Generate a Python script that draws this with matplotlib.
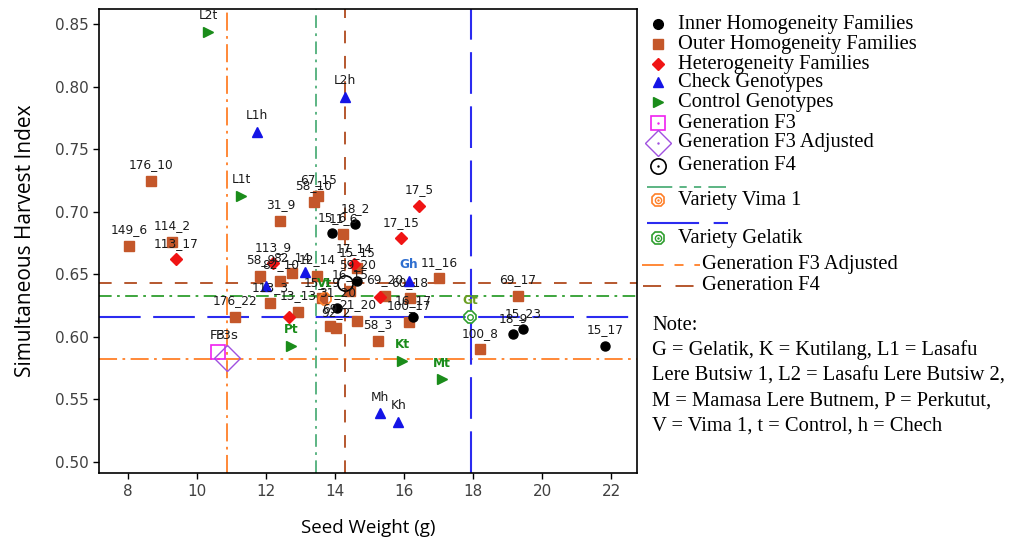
import matplotlib.pyplot as plt

# ---- data ----
# Inner homogeneity families
inner_x = [14.58, 13.91, 14.06, 14.64, 16.26, 19.16, 19.45, 21.83]
inner_y = [0.690, 0.683, 0.623, 0.645, 0.616, 0.602, 0.606, 0.593]
inner_lab = ["18_2", "15_6", "31_20", "59_20", "16_17", "18_9", "15_23", "15_17"]

# Outer homogeneity families
outer_x = [8.67, 8.03, 9.28, 12.41, 13.51, 13.39, 14.23, 11.83, 12.41, 12.75,
           13.48, 12.12, 12.93, 13.62, 13.86, 14.03, 14.64, 15.45, 16.17, 16.14,
           17.01, 19.30, 18.20, 15.25, 11.10, 14.43, 14.64]
outer_y = [0.725, 0.673, 0.676, 0.693, 0.713, 0.708, 0.682, 0.649, 0.645, 0.651,
           0.649, 0.627, 0.620, 0.631, 0.609, 0.607, 0.613, 0.633, 0.631, 0.612,
           0.647, 0.633, 0.590, 0.597, 0.616, 0.637, 0.655]
outer_lab = ["176_10", "149_6", "114_2", "31_9", "67_15", "58_10", "11_6", "58_9",
             "82_10", "82_14", "12_14", "113_3", "13_13", "15_19", "69", "92_2",
             "21_20", "69_20", "60_18", "100_17", "11_16", "69_17", "100_8", "58_3",
             "176_22", "16_15", "15_15"]

# Heterogeneity families
het_x = [9.39, 16.43, 15.91, 12.20, 12.67, 14.55, 15.30]
het_y = [0.662, 0.705, 0.679, 0.659, 0.616, 0.658, 0.632]
het_lab = ["113_17", "17_5", "17_15", "113_9", "", "17_14", ""]

# Check genotypes
check_x = [14.29, 11.74, 15.30, 15.83, 16.14, 13.13, 12.00]
check_y = [0.792, 0.764, 0.539, 0.532, 0.645, 0.652, 0.641]
check_lab = ["L2h", "L1h", "Mh", "Kh", "Gh", "", ""]

# Control genotypes
ctrl_x = [10.32, 11.28, 12.72, 15.94, 17.10]
ctrl_y = [0.844, 0.713, 0.593, 0.581, 0.566]
ctrl_lab = ["L2t", "L1t", "Pt", "Kt", "Mt"]

# generation / variety means
f3_xy = (10.61, 0.588)
f3adj_xy = (10.87, 0.583)
f4_xy = (14.29, 0.643)
vima_xy = (13.70, 0.630)
gelatik_xy = (17.91, 0.616)

# reference lines (x = seed weight, y = SHI)
vline_f3adj, hline_f3adj = 10.87, 0.582
vline_vima, hline_vima = 13.45, 0.633
vline_f4, hline_f4 = 14.29, 0.643
vline_gel, hline_gel = 17.93, 0.616

BROWN = "#C4572A"
RED = "#F01414"
BLUE = "#1414E6"
GREEN = "#1A8C1A"
ORANGE = "#FF7F27"
VGREEN = "#4FAF7A"
F4BROWN = "#B04A1E"
LBLUE = "#2B2BF0"
SERIF = "Liberation Serif"
LEG_FS = 14.8

fig = plt.figure(figsize=(10.19, 5.39), dpi=100)
ax = fig.add_axes([0.097, 0.122, 0.528, 0.861])

# reference lines
ls_orange = (0, (10, 3, 1.5, 3))
ls_green = (0, (7, 3, 1.5, 3))
ls_brown = (0, (7, 7))
ls_blue = (0, (20, 6))
ax.axvline(vline_f3adj, color=ORANGE, lw=1.3, ls=ls_orange, zorder=1)
ax.axhline(hline_f3adj, color=ORANGE, lw=1.3, ls=ls_orange, zorder=1)
ax.axvline(vline_vima, color=VGREEN, lw=1.3, ls=ls_green, zorder=1)
ax.axhline(hline_vima, color="#2E9E2E", lw=1.3, ls=ls_green, zorder=1)
ax.axvline(vline_f4, color=F4BROWN, lw=1.3, ls=ls_brown, zorder=1)
ax.axhline(hline_f4, color=F4BROWN, lw=1.3, ls=ls_brown, zorder=1)
ax.axvline(vline_gel, color=LBLUE, lw=1.5, ls=ls_blue, zorder=1)
ax.axhline(hline_gel, color=LBLUE, lw=1.5, ls=ls_blue, zorder=1)

# point groups
ax.plot(outer_x, outer_y, "s", color=BROWN, ms=7, ls="none", zorder=3)
ax.plot(inner_x, inner_y, "o", color="black", ms=6.5, ls="none", zorder=4)
ax.plot(het_x, het_y, "D", color=RED, ms=6.5, ls="none", zorder=4)
ax.plot(check_x, check_y, "^", color=BLUE, ms=7.5, ls="none", zorder=4)
ax.plot(ctrl_x, ctrl_y, ">", color=GREEN, ms=7.5, ls="none", zorder=4)

# means
ax.plot(*f3_xy, "s", mfc="none", mec="#F020F0", ms=10, mew=1.2, zorder=5)
ax.plot(*f3adj_xy, "D", mfc="none", mec="#A050E0", ms=13, mew=1.0, zorder=5)
ax.plot(*f4_xy, "o", mfc="none", mec="black", ms=11, mew=1.2, zorder=5)
ax.plot(*vima_xy, "8", mfc="none", mec=ORANGE, ms=9, mew=1.2, zorder=5)
ax.plot(*gelatik_xy, "8", mfc="none", mec="#2E9E2E", ms=9, mew=1.2, zorder=5)
ax.plot(*gelatik_xy, "o", mfc="none", mec="#2E9E2E", ms=4, mew=1.0, zorder=5)


def label_points(xs, ys, labs, color="#1a1a1a", weight="normal", size=8.7):
    for x, y, t in zip(xs, ys, labs):
        if t:
            ax.annotate(t, (x, y), xytext=(0, 11.5), textcoords="offset points",
                        ha="center", va="center", fontsize=size, color=color,
                        fontweight=weight, zorder=6)


label_points(outer_x, outer_y, outer_lab)
label_points(inner_x, inner_y, inner_lab)
label_points(het_x, het_y, het_lab)
label_points(check_x[:4], check_y[:4], check_lab[:4])
label_points(check_x[4:], check_y[4:], check_lab[4:], color="#2F6FD0", weight="bold")
label_points(ctrl_x[:2], ctrl_y[:2], ctrl_lab[:2])
label_points(ctrl_x[2:], ctrl_y[2:], ctrl_lab[2:], color=GREEN, weight="bold")
label_points([f3_xy[0], f3adj_xy[0]], [f3_xy[1], f3_xy[1]], ["F3", "F3s"], size=9.5)
label_points([vima_xy[0]], [vima_xy[1]], ["Vt"], color=GREEN, weight="bold")
label_points([gelatik_xy[0]], [gelatik_xy[1]], ["Gt"], color="#6B9E23", weight="bold")

ax.set_xlim(7.15, 22.75)
ax.set_ylim(0.491, 0.862)
ax.set_xticks([8, 10, 12, 14, 16, 18, 20, 22])
ax.set_yticks([0.50, 0.55, 0.60, 0.65, 0.70, 0.75, 0.80, 0.85])
ax.set_yticklabels([f"{v:.2f}" for v in ax.get_yticks()])
ax.tick_params(labelsize=11, labelcolor="#404040", length=4, width=1)
for s in ax.spines.values():
    s.set_linewidth(1.2)
ax.set_xlabel("Seed Weight (g)", fontsize=13.5, family="Open Sans", labelpad=15)
ax.set_ylabel("Simultaneous Harvest Index", fontsize=15, family="Open Sans", labelpad=13)

# ---- hand-built legend (pixel coordinates on the right) ----
lax = fig.add_axes([0, 0, 1, 1], facecolor="none")
lax.set_xlim(0, 1019)
lax.set_ylim(539, 0)
lax.axis("off")

mx, tx = 658, 678
entries = [
    (24, dict(marker="o", color="black", ms=7), "Inner Homogeneity Families"),
    (44, dict(marker="s", color=BROWN, ms=7), "Outer Homogeneity Families"),
    (64, dict(marker="D", color=RED, ms=6.5), "Heterogeneity Families"),
    (82, dict(marker="^", color=BLUE, ms=7.5), "Check Genotypes"),
    (102, dict(marker=">", color=GREEN, ms=7.5), "Control Genotypes"),
    (123, dict(marker="s", mfc="none", mec="#F020F0", ms=10, mew=1.2), "Generation F3"),
    (143, dict(marker="D", mfc="none", mec="#A050E0", ms=13, mew=1.0), "Generation F3 Adjusted"),
    (166, dict(marker="o", mfc="none", mec="black", ms=11, mew=1.2), "Generation F4"),
    (200, dict(marker="8", mfc="none", mec=ORANGE, ms=10, mew=1.2), "Variety Vima 1"),
    (238, dict(marker="8", mfc="none", mec="#2E9E2E", ms=10, mew=1.2), "Variety Gelatik"),
]
for y, style, text in entries:
    lax.plot([mx], [y], ls="none", **style)
    if style.get("mfc") == "none":
        lax.plot([mx], [y], ".", color=style["mec"], ms=1.5)
    lax.text(tx, y, text, family=SERIF, fontsize=LEG_FS, va="center", ha="left")
lax.plot([mx], [200], "o", mfc="none", mec=ORANGE, ms=4.5, mew=1.0)
lax.plot([mx], [238], "o", mfc="none", mec="#2E9E2E", ms=4.5, mew=1.0)

lax.plot([647, 726], [187, 187], color=VGREEN, lw=1.3, ls=(0, (14, 4, 4, 4, 4, 4)))
lax.plot([647, 728], [223, 223], color=LBLUE, lw=1.5, ls=(0, (25, 7)))
lax.plot([642, 700], [265, 265], color=ORANGE, lw=1.3, ls=(0, (12, 6, 5, 6)))
lax.text(702, 265, "Generation F3 Adjusted", family=SERIF, fontsize=LEG_FS, va="center")
lax.plot([643, 702], [286, 286], color=F4BROWN, lw=1.3, ls=(0, (10, 8)))
lax.text(702, 286, "Generation F4", family=SERIF, fontsize=LEG_FS, va="center")

note = ["Note:",
        "G = Gelatik, K = Kutilang, L1 = Lasafu",
        "Lere Butsiw 1, L2 = Lasafu Lere Butsiw 2,",
        "M = Mamasa Lere Butnem, P = Perkutut,",
        "V = Vima 1, t = Control, h = Chech"]
for i, line in enumerate(note):
    lax.text(652, 325 + i * 25.3, line, family=SERIF, fontsize=14.8, va="center")

fig.savefig("out.png", dpi=100)
